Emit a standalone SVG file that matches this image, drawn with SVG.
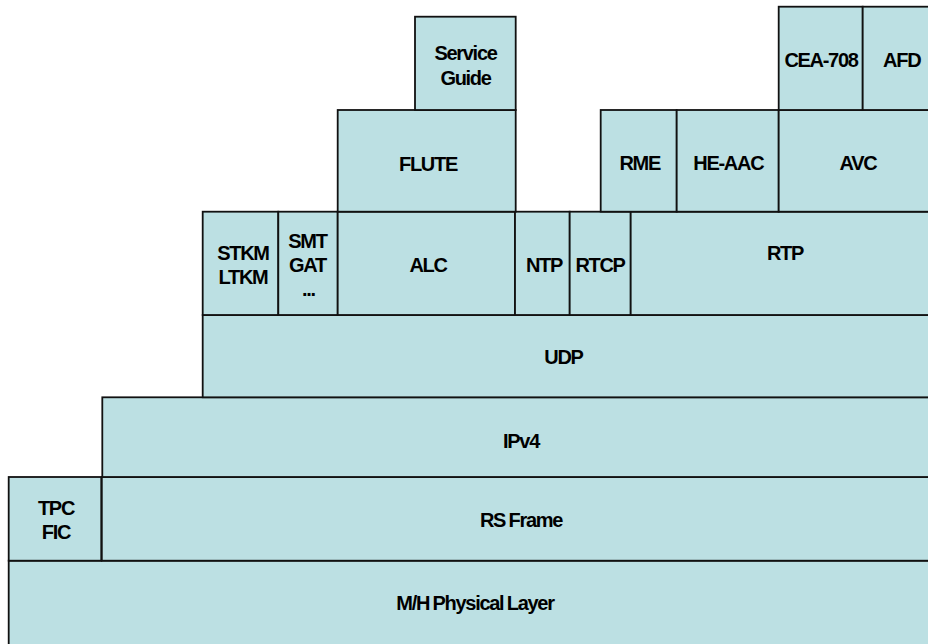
<svg xmlns="http://www.w3.org/2000/svg" width="928" height="644" viewBox="0 0 928 644">
<style>
.b{fill:#bce0e3;stroke:#111;stroke-width:1.8}
.t{font-family:"Liberation Sans",Arial,sans-serif;font-weight:bold;font-size:20px;letter-spacing:-1.3px;word-spacing:-0.8px;fill:#000;text-anchor:middle}
</style>
<rect width="928" height="644" fill="#fff"/>
<g id="phy"><rect class="b" x="8.7" y="560.7" width="940" height="100"/><text class="t" x="475" y="609.5">M/H Physical Layer</text></g>
<g id="tpc"><rect class="b" x="8.7" y="477" width="92.6" height="83.7"/><text class="t" x="56" y="515">TPC</text><text class="t" x="56" y="539">FIC</text></g>
<g id="rsframe"><rect class="b" x="101.8" y="477" width="850" height="83.7"/><text class="t" x="521" y="527">RS Frame</text></g>
<g id="ipv4"><rect class="b" x="102.3" y="397.3" width="850" height="79.7"/><text class="t" x="521" y="447.5">IPv4</text></g>
<g id="udp"><rect class="b" x="202.7" y="315" width="750" height="82.3"/><text class="t" x="563.5" y="363.5">UDP</text></g>
<g id="stkm"><rect class="b" x="202.7" y="211.7" width="75.6" height="103.3"/><text class="t" x="243" y="260">STKM</text><text class="t" x="243" y="284">LTKM</text></g>
<g id="smt"><rect class="b" x="278.3" y="211.7" width="59.4" height="103.3"/><text class="t" x="307.5" y="248.3">SMT</text><text class="t" x="307.5" y="271.5">GAT</text><text class="t" x="308.5" y="295.5">...</text></g>
<g id="alc"><rect class="b" x="337.7" y="211.7" width="177.3" height="103.3"/><text class="t" x="428" y="271.7">ALC</text></g>
<g id="ntp"><rect class="b" x="515" y="211.7" width="54.7" height="103.3"/><text class="t" x="544" y="271.7">NTP</text></g>
<g id="rtcp"><rect class="b" x="569.7" y="211.7" width="61" height="103.3"/><text class="t" x="600" y="271.7">RTCP</text></g>
<g id="rtp"><rect class="b" x="630.7" y="211.7" width="320" height="103.3"/><text class="t" x="785" y="260">RTP</text></g>
<g id="flute"><rect class="b" x="337.7" y="110" width="178" height="101.7"/><text class="t" x="428" y="170.7">FLUTE</text></g>
<g id="sg"><rect class="b" x="415" y="16.7" width="100.7" height="93.3"/><text class="t" x="465.5" y="60">Service</text><text class="t" x="465.5" y="85">Guide</text></g>
<g id="rme"><rect class="b" x="600.7" y="110" width="76" height="101.7"/><text class="t" x="639.7" y="170">RME</text></g>
<g id="heaac"><rect class="b" x="676.7" y="110" width="102" height="101.7"/><text class="t" x="728.3" y="170">HE-AAC</text></g>
<g id="avc"><rect class="b" x="778.7" y="110" width="170" height="101.7"/><text class="t" x="858" y="170">AVC</text></g>
<g id="cea"><rect class="b" x="778.7" y="6.7" width="84" height="103.3"/><text class="t" x="821" y="66.7">CEA-708</text></g>
<g id="afd"><rect class="b" x="862.7" y="6.7" width="90" height="103.3"/><text class="t" x="901.7" y="66.7">AFD</text></g>
<g id="connectors"></g>
</svg>
